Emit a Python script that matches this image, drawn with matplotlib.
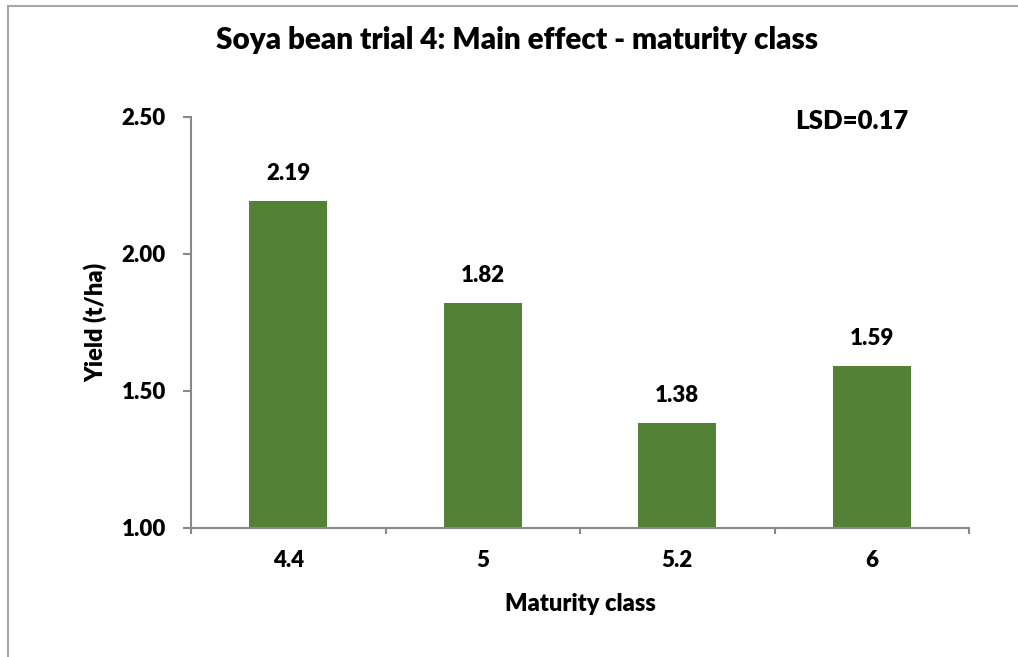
import matplotlib
matplotlib.use("Agg")
import matplotlib.pyplot as plt
from matplotlib.lines import Line2D
import numpy as np

categories = ["4.4", "5", "5.2", "6"]
yields = [2.19, 1.82, 1.38, 1.59]
y_ticks = [1.00, 1.50, 2.00, 2.50]
title = "Soya bean trial 4: Main effect - maturity class"
xlabel = "Maturity class"
ylabel = "Yield (t/ha)"
lsd_text = "LSD=0.17"

plt.rcParams['font.family'] = ['Lato', 'DejaVu Sans']
WT = "heavy"

W, H = 1018, 657
fig = plt.figure(figsize=(W/100, H/100), dpi=100)
ax = fig.add_axes([191/W, 1-527.5/H, (969-191)/W, (527.5-116.5)/H])

x = np.arange(len(categories))
bars = ax.bar(x, yields, width=0.4, color="#538135", bottom=0)
ax.set_xlim(-0.5, len(categories)-0.5)
ax.set_ylim(1.0, 2.5)

for xi, v in zip(x, yields):
    ax.annotate(f"{v:.2f}", (xi, v), xytext=(0, 20), textcoords="offset points",
                ha="center", va="center", fontsize=16, fontweight=WT, color="black")

spine_col = "#898989"
for s in ["top", "right"]:
    ax.spines[s].set_visible(False)
for s in ["left", "bottom"]:
    ax.spines[s].set_color(spine_col)
    ax.spines[s].set_linewidth(1.5)

ax.set_yticks(y_ticks)
ax.set_yticklabels([f"{t:.2f}" for t in y_ticks], fontsize=16, fontweight=WT)
ax.tick_params(axis="y", length=6, width=1.5, color=spine_col, pad=12)

ax.set_xticks(np.arange(-0.5, len(categories)), minor=False)
ax.set_xticklabels([])
ax.tick_params(axis="x", which="major", length=4.5, width=1.5, color=spine_col)
ax.set_xticks(x, minor=True)
ax.set_xticklabels(categories, minor=True, fontsize=16, fontweight=WT)
ax.tick_params(axis="x", which="minor", length=0, pad=16)

ax.set_xlabel(xlabel, fontsize=17, fontweight=WT, labelpad=16)
ax.set_ylabel(ylabel, fontsize=17, fontweight=WT, labelpad=10)

fig.text(517/W, 1-40/H, title, ha="center", va="center", fontsize=21.3, fontweight=WT)
fig.text(908/W, 1-121/H, lsd_text, ha="right", va="center", fontsize=18.5, fontweight=WT)

# chart area border (top and left visible)
fig.add_artist(Line2D([8/W, 8/W], [0, 1-6/H], transform=fig.transFigure, color="#a6a6a6", lw=1.5))
fig.add_artist(Line2D([8/W, 1], [1-6/H, 1-6/H], transform=fig.transFigure, color="#a6a6a6", lw=1.5))

fig.savefig("out.png", dpi=100, facecolor="white")
